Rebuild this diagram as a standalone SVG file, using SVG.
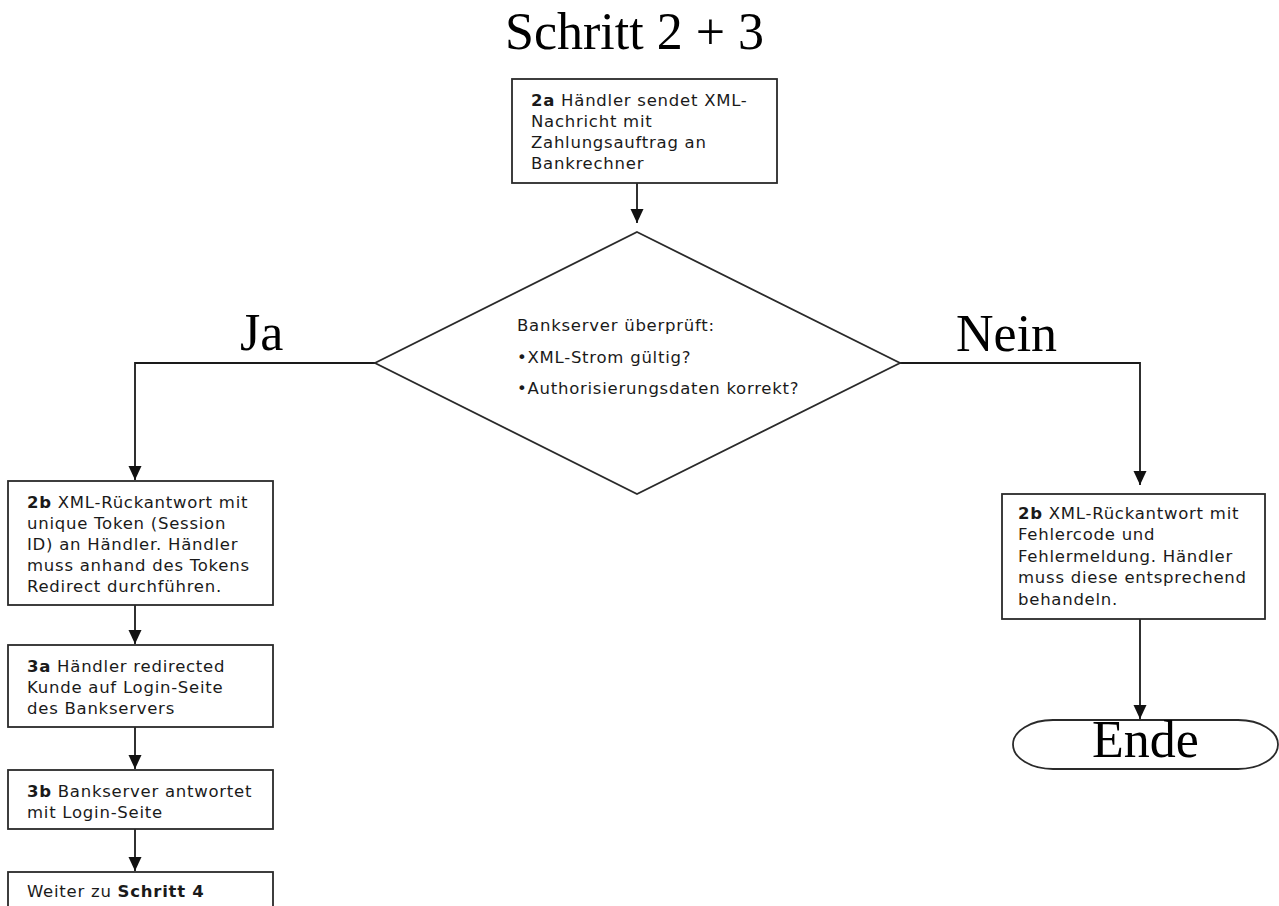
<svg xmlns="http://www.w3.org/2000/svg" width="1279" height="906" viewBox="0 0 1279 906">
<style>
.big{font-family:"Liberation Serif","Times New Roman",serif;font-size:52px;fill:#000}
.t{font-family:"DejaVu Sans",Verdana,sans-serif;font-size:16.5px;letter-spacing:0.75px;fill:#1a1a1a}
.b{font-weight:bold}
.box{fill:#fff;stroke:#2a2a2a;stroke-width:1.8}
.ln{fill:none;stroke:#1a1a1a;stroke-width:1.8}
</style>
<defs>
<marker id="ah" viewBox="0 0 14 14" refX="14" refY="7" markerWidth="14" markerHeight="14" markerUnits="userSpaceOnUse" orient="auto">
<path d="M0,0.5 L14,7 L0,13.5 Z" fill="#111"/>
</marker>
</defs>
<rect width="1279" height="906" fill="#fff"/>
<text class="big" x="505" y="49">Schritt 2 + 3</text>
<text class="big" x="240" y="350">Ja</text>
<text class="big" x="956" y="351">Nein</text>
<g id="connectors">
<path class="ln" d="M637,183 L637,223" marker-end="url(#ah)"/>
<path class="ln" d="M375,363 L135,363 L135,480" marker-end="url(#ah)"/>
<path class="ln" d="M900,363 L1140,363 L1140,485" marker-end="url(#ah)"/>
<path class="ln" d="M1140,619 L1140,719" marker-end="url(#ah)"/>
<path class="ln" d="M135,605 L135,644" marker-end="url(#ah)"/>
<path class="ln" d="M135,727 L135,769" marker-end="url(#ah)"/>
<path class="ln" d="M135,829 L135,871" marker-end="url(#ah)"/>
</g>
<g id="n2a">
<rect class="box" x="512" y="79" width="265" height="104"/>
<text class="t" x="531" y="106"><tspan class="b">2a</tspan> Händler sendet XML-</text>
<text class="t" x="531" y="127">Nachricht mit</text>
<text class="t" x="531" y="148">Zahlungsauftrag an</text>
<text class="t" x="531" y="169">Bankrechner</text>
</g>
<g id="decision">
<polygon class="box" points="637,232 900,363 637,494 375,363"/>
<text class="t" x="517" y="331">Bankserver überprüft:</text>
<text class="t" x="517" y="363">•XML-Strom gültig?</text>
<text class="t" x="517" y="394">•Authorisierungsdaten korrekt?</text>
</g>
<g id="n2b_ja">
<rect class="box" x="8" y="481" width="265" height="124"/>
<text class="t" x="27" y="508"><tspan class="b">2b</tspan> XML-Rückantwort mit</text>
<text class="t" x="27" y="529">unique Token (Session</text>
<text class="t" x="27" y="550">ID) an Händler. Händler</text>
<text class="t" x="27" y="571">muss anhand des Tokens</text>
<text class="t" x="27" y="592">Redirect durchführen.</text>
</g>
<g id="n3a">
<rect class="box" x="8" y="645" width="265" height="82"/>
<text class="t" x="27" y="672"><tspan class="b">3a</tspan> Händler redirected</text>
<text class="t" x="27" y="693">Kunde auf Login-Seite</text>
<text class="t" x="27" y="714">des Bankservers</text>
</g>
<g id="n3b">
<rect class="box" x="8" y="770" width="265" height="59"/>
<text class="t" x="27" y="797"><tspan class="b">3b</tspan> Bankserver antwortet</text>
<text class="t" x="27" y="818">mit Login-Seite</text>
</g>
<g id="n4">
<rect class="box" x="8" y="872" width="265" height="60"/>
<text class="t" x="27" y="897">Weiter zu <tspan class="b">Schritt 4</tspan></text>
</g>
<g id="n2b_nein">
<rect class="box" x="1002" y="494" width="263" height="125"/>
<text class="t" x="1018" y="519"><tspan class="b">2b</tspan> XML-Rückantwort mit</text>
<text class="t" x="1018" y="540">Fehlercode und</text>
<text class="t" x="1018" y="562">Fehlermeldung. Händler</text>
<text class="t" x="1018" y="583">muss diese entsprechend</text>
<text class="t" x="1018" y="605">behandeln.</text>
</g>
<g id="ende">
<rect class="box" x="1013" y="720" width="265" height="49" rx="40" ry="24.5"/>
<text class="big" x="1145.5" y="757" text-anchor="middle">Ende</text>
</g>
</svg>
